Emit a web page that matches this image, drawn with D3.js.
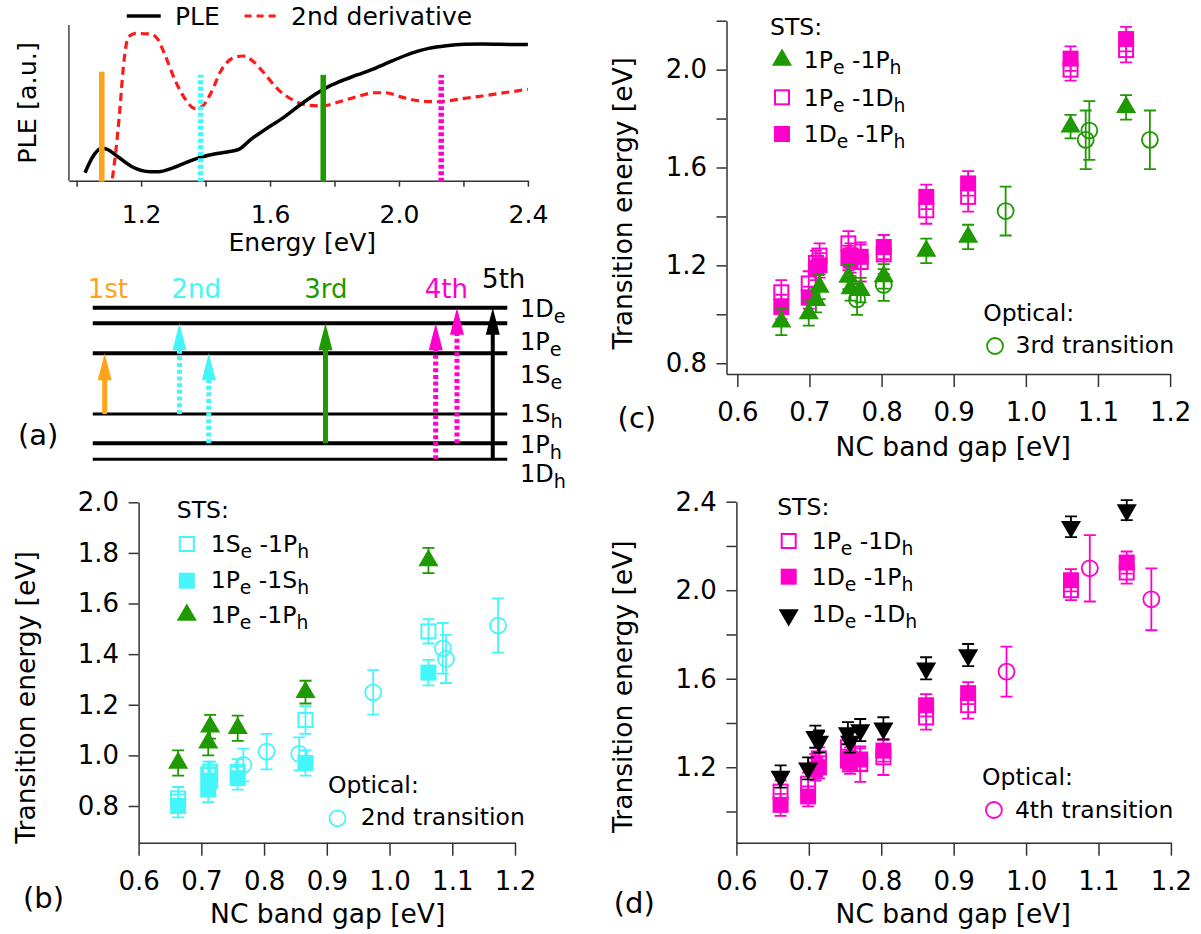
<!DOCTYPE html>
<html>
<head>
<meta charset="utf-8">
<script src="https://cdn.jsdelivr.net/npm/d3@7"></script>
<style>
	body { margin: 0; background: #fff; }
	text { font-family: "DejaVu Sans", sans-serif; }
</style>
</head>
<body>
<svg id="fig" width="1201" height="934"></svg>
<script>
//---------------- data ----------------
//(a) PLE spectrum and its 2nd derivative (arb. units)
var pleE = [1.026,1.050,1.078,1.095,1.128,1.172,1.228,1.255,1.294,1.339,1.383,1.427,1.471,1.505,1.538,1.582,1.638,1.693,1.737,1.771,1.815,1.870,1.926,1.981,2.037,2.092,2.147,2.203,2.258,2.314,2.4];
var pleI = [0.051,0.154,0.208,0.201,0.154,0.090,0.058,0.058,0.079,0.116,0.150,0.171,0.186,0.203,0.261,0.325,0.400,0.486,0.550,0.593,0.636,0.679,0.722,0.771,0.818,0.850,0.867,0.876,0.878,0.876,0.874];
var derE = [1.111,1.122,1.134,1.145,1.161,1.183,1.228,1.250,1.272,1.305,1.339,1.366,1.388,1.416,1.449,1.483,1.516,1.549,1.582,1.627,1.671,1.715,1.760,1.815,1.870,1.926,1.959,2.003,2.059,2.114,2.158,2.203,2.258,2.314,2.4];
var derI = [0.015,0.197,0.454,0.732,0.925,0.946,0.942,0.914,0.818,0.647,0.518,0.465,0.475,0.561,0.711,0.786,0.801,0.764,0.690,0.582,0.518,0.486,0.480,0.507,0.540,0.565,0.565,0.540,0.514,0.507,0.514,0.529,0.544,0.561,0.587];
var aTicks = [1.0,1.2,1.4,1.6,1.8,2.0,2.2,2.4];
var aTickLabels = [1.2,1.6,2.0,2.4];
//transition markers in the spectrum
var markE = [1.078, 1.385, 1.765, 2.131];
var markTop = [0.70, 0.68, 0.68, 0.68];
var markColor = ['#ffa31a', '#44f6fa', '#1f9900', '#ff00cc'];
var markDotted = [false, true, false, true];

//(a) level scheme
var levelNames = ['1D_e', '1P_e', '1S_e', '1S_h', '1P_h', '1D_h'];
var levelPos = [1.0, 0.897, 0.699, 0.299, 0.106, 0];
var levelWidth = [4, 4, 4, 3, 4, 3];
var levelLabelY = [317, 350, 383, 422, 453, 482];
var arrowE = [1.087, 1.319, 1.410, 1.772, 2.114, 2.180, 2.291];
var arrowFrom = ['1S_h', '1S_h', '1P_h', '1P_h', '1D_h', '1P_h', '1D_h'];
var arrowTo = ['1S_e', '1P_e', '1S_e', '1P_e', '1P_e', '1D_e', '1D_e'];
var arrowColor = ['#ffa31a', '#44f6fa', '#44f6fa', '#1f9900', '#ff00cc', '#ff00cc', '#000'];
var arrowDotted = [false, true, true, false, true, true, false];
var transNames = ['1st', '2nd', '3rd', '4th', '5th'];
var transE = [1.097, 1.371, 1.773, 2.147, 2.325];
var transColor = ['#ffa31a', '#44f6fa', '#1f9900', '#ff00cc', '#000'];

//(b) 2nd transition
var bX = [0.663, 0.711, 0.714, 0.758, 0.866, 1.062];
var b1Se1Ph = [0.83, 0.925, 0.935, 0.935, 1.14, 1.49];
var b1Se1PhErr = [0.045, 0.05, 0.04, 0.05, 0.055, 0.048];
var b1Pe1Sh = [0.80, 0.865, 0.90, 0.91, 0.97, 1.327];
var b1Pe1ShErr = [0.045, 0.05, 0.05, 0.045, 0.05, 0.05];
var b1Pe1Ph = [0.97, 1.05, 1.113, 1.107, 1.25, 1.77];
var b1Pe1PhErr = [0.05, 0.05, 0.047, 0.05, 0.045, 0.05];
var bOptX = [0.767, 0.804, 0.856, 0.974, 1.085, 1.09, 1.173];
var bOpt = [0.962, 1.015, 1.006, 1.249, 1.423, 1.381, 1.513];
var bOptErr = [0.065, 0.07, 0.065, 0.088, 0.1, 0.095, 0.107];
var bYTicks = [0.8,1.0,1.2,1.4,1.6,1.8,2.0];

//(c),(d) STS sizes shared
var stsX = [0.661, 0.699, 0.709, 0.714, 0.754, 0.757, 0.771, 0.803, 0.862, 0.92, 1.062, 1.139];
var c1Pe1Ph = [0.97, 1.004, 1.058, 1.112, 1.153, 1.106, 1.099, 1.155, 1.259, 1.316, 1.767, 1.846];
var c1Pe1PhErr = [0.055, 0.05, 0.05, 0.05, 0.05, 0.05, 0.05, 0.05, 0.05, 0.05, 0.048, 0.05];
var m1Pe1Dh = [1.09, 1.126, 1.21, 1.24, 1.29, 1.24, 1.214, 1.245, 1.425, 1.48, 2.0, 2.08];
var m1Pe1DhErr = [0.05, 0.05, 0.05, 0.05, 0.05, 0.05, 0.08, 0.08, 0.055, 0.06, 0.045, 0.05];
var m1De1Ph = [1.03, 1.068, 1.19, 1.20, 1.23, 1.22, 1.235, 1.275, 1.48, 1.535, 2.045, 2.125];
var m1De1PhErr = [0.05, 0.045, 0.05, 0.05, 0.05, 0.05, 0.05, 0.05, 0.05, 0.05, 0.05, 0.05];
var d1De1Dh = [1.158, 1.195, 1.338, 1.316, 1.354, 1.316, 1.368, 1.376, 1.647, 1.707, 2.287, 2.362];
var d1De1DhErr = [0.05, 0.05, 0.05, 0.05, 0.05, 0.05, 0.05, 0.05, 0.05, 0.05, 0.047, 0.045];
var cOptX = [0.766, 0.803, 0.972, 1.083, 1.088, 1.172];
var cOpt = [1.061, 1.12, 1.422, 1.713, 1.751, 1.713];
var cOptErr = [0.063, 0.065, 0.1, 0.12, 0.12, 0.12];
var dOptX = [0.973, 1.088, 1.173];
var dOpt = [1.632, 2.099, 1.959];
var dOptErr = [0.113, 0.15, 0.14];
var cYTicks = [0.8,1.0,1.2,1.4,1.6,1.8,2.0,2.2];
var cYLabels = [0.8,1.2,1.6,2.0];
var dYTicks = [1.0,1.2,1.4,1.6,1.8,2.0,2.2,2.4];
var dYLabels = [1.2,1.6,2.0,2.4];
var gapTicks = [0.6,0.7,0.8,0.9,1.0,1.1,1.2];

var CYAN = '#44f6fa', GREEN = '#1f9900', MAG = '#ff00cc';

//---------------- helpers ----------------
var svg = d3.select('#fig');
var fmt = d3.format('.1f');

//text with "_x" subscripts
function subText(g, str, x, y, size, color) {
	var t = g.append('text').attr('x', x).attr('y', y)
				.style('font-size', size + 'px').attr('fill', color || '#000');
	var shift = 0, off = size * 0.26;
	str.split(/(_[a-z])/).forEach(function(p) {
		if(!p) return;
		if(p[0] === '_') {
			t.append('tspan').attr('dy', off - shift).style('font-size', (size * 0.8) + 'px').text(p.slice(1));
			shift = off;
		} else {
			t.append('tspan').attr('dy', -shift).text(p);
			shift = 0;
		}
	});
	return t;
}

function styleAxis(sel, size) {
	sel.select('.domain').attr('stroke', '#333').attr('stroke-width', 1.5);
	sel.selectAll('.tick line').attr('stroke', '#333').attr('stroke-width', 1.5);
	sel.selectAll('.tick text').attr('fill', '#000')
		.style('font-size', size + 'px').style('font-family', '"DejaVu Sans", sans-serif');
}

function labelFmt(list) {
	return function(d) { return list.indexOf(d) >= 0 ? fmt(d) : ''; };
}

function drawFrame(g, x, y, yTicks, yLabels) {
	var ax = g.append('g').attr('transform', 'translate(0,' + y.range()[0] + ')')
				.call(d3.axisBottom(x).tickValues(gapTicks).tickSize(13).tickPadding(15.5)
					.tickSizeOuter(0).tickFormat(fmt));
	styleAxis(ax, 26);
	var ay = g.append('g').attr('transform', 'translate(' + x.range()[0] + ',0)')
				.call(d3.axisLeft(y).tickValues(yTicks).tickSize(10).tickPadding(9.5)
					.tickSizeOuter(0).tickFormat(labelFmt(yLabels)));
	styleAxis(ay, 26);
}

function errBars(g, xs, ys, es, x, y, color) {
	g.selectAll(null).data(xs).enter().append('path')
		.attr('d', function(d, i) {
			var px = x(d), y0 = y(ys[i] - es[i]), y1 = y(ys[i] + es[i]);
			return 'M' + (px - 6) + ',' + y0 + 'H' + (px + 6) + 'M' + px + ',' + y0 + 'V' + y1 +
				'M' + (px - 6) + ',' + y1 + 'H' + (px + 6);
		})
		.attr('stroke', color).attr('stroke-width', 1.8).attr('fill', 'none');
}

var triPath = d3.symbol(d3.symbolTriangle, 175)();
function marker(g, type, px, py, color) {
	if(type === 'sq') {
		g.append('rect').attr('x', px - 8).attr('y', py - 8).attr('width', 16).attr('height', 16).attr('fill', color);
	} else if(type === 'osq') {
		g.append('rect').attr('x', px - 7).attr('y', py - 7).attr('width', 14).attr('height', 14)
			.attr('fill', 'none').attr('stroke', color).attr('stroke-width', 2);
	} else if(type === 'tri' || type === 'dtri') {
		g.append('path').attr('d', triPath).attr('fill', color)
			.attr('transform', 'translate(' + px + ',' + py + ')' + (type === 'dtri' ? ' rotate(180)' : ''));
	} else {
		g.append('circle').attr('cx', px).attr('cy', py).attr('r', 8)
			.attr('fill', 'none').attr('stroke', color).attr('stroke-width', 1.8);
	}
}

function series(g, type, xs, ys, es, x, y, color) {
	errBars(g, xs, ys, es, x, y, color);
	xs.forEach(function(d, i) { marker(g, type, x(d), y(ys[i]), color); });
}

function legendRow(g, type, color, label, mx, my, tx, ty) {
	marker(g, type, mx, my, color);
	subText(g, label, tx, ty, 23.5);
}

function axisTitles(g, xt, xx, xy, yt, yx, yy) {
	g.append('text').attr('x', xx).attr('y', xy).attr('text-anchor', 'middle')
		.style('font-size', '26.5px').text(xt);
	g.append('text').attr('transform', 'translate(' + yx + ',' + yy + ') rotate(-90)')
		.attr('text-anchor', 'middle').style('font-size', '26.5px').text(yt);
}

//---------------- (a) spectrum ----------------
var xA = d3.scaleLinear().domain([0.976, 2.4]).range([68.9, 527.9]);
var yA = d3.scaleLinear().domain([0, 1]).range([180.7, 25]);
var gA = svg.append('g');

gA.append('line').attr('x1', xA.range()[0]).attr('x2', xA.range()[0])
	.attr('y1', yA(1)).attr('y2', yA(0)).attr('stroke', '#444').attr('stroke-width', 1.5);
var axA = gA.append('g').attr('transform', 'translate(0,' + yA(0) + ')')
			.call(d3.axisBottom(xA).tickValues(aTicks).tickSize(6).tickPadding(18.5)
				.tickSizeOuter(0).tickFormat(labelFmt(aTickLabels)));
styleAxis(axA, 25);

var line = d3.line().curve(d3.curveMonotoneX);
gA.append('path').attr('d', line(derE.map(function(e, i) { return [xA(e), yA(derI[i])]; })))
	.attr('fill', 'none').attr('stroke', '#ff1a1a').attr('stroke-width', 3.2).attr('stroke-dasharray', '8,5');
gA.append('path').attr('d', line(pleE.map(function(e, i) { return [xA(e), yA(pleI[i])]; })))
	.attr('fill', 'none').attr('stroke', '#000').attr('stroke-width', 3.5);

markE.forEach(function(e, i) {
	gA.append('line').attr('x1', xA(e)).attr('x2', xA(e)).attr('y1', yA(0) + 1).attr('y2', yA(markTop[i]))
		.attr('stroke', markColor[i]).attr('stroke-width', 5.5)
		.attr('stroke-dasharray', markDotted[i] ? '4,2.5' : null);
});

//legend
gA.append('line').attr('x1', 126.8).attr('x2', 160.7).attr('y1', 16).attr('y2', 16)
	.attr('stroke', '#000').attr('stroke-width', 3.5);
gA.append('text').attr('x', 175).attr('y', 25).style('font-size', '25px').text('PLE');
gA.append('line').attr('x1', 244.6).attr('x2', 276.8).attr('y1', 16).attr('y2', 16)
	.attr('stroke', '#ff1a1a').attr('stroke-width', 3.2).attr('stroke-dasharray', '7,5');
gA.append('text').attr('x', 291).attr('y', 25).style('font-size', '25px').text('2nd derivative');

gA.append('text').attr('x', xA(1.7)).attr('y', 251).attr('text-anchor', 'middle')
	.style('font-size', '25px').text('Energy [eV]');
gA.append('text').attr('transform', 'translate(36,103) rotate(-90)').attr('text-anchor', 'middle')
	.style('font-size', '25.5px').text('PLE [a.u.]');

//---------------- (a) level scheme ----------------
var yL = d3.scaleLinear().domain([0, 1]).range([459.3, 307.7]);
function lvl(name) { return yL(levelPos[levelNames.indexOf(name)]); }

levelNames.forEach(function(n, i) {
	gA.append('line').attr('x1', xA(1.05)).attr('x2', xA(2.336))
		.attr('y1', yL(levelPos[i])).attr('y2', yL(levelPos[i]))
		.attr('stroke', '#000').attr('stroke-width', levelWidth[i]);
	subText(gA, n, 520, levelLabelY[i], 24);
});

arrowE.forEach(function(e, i) {
	var px = xA(e), y0 = lvl(arrowFrom[i]), y1 = lvl(arrowTo[i]);
	var head = 27, hw = 7;
	gA.append('line').attr('x1', px).attr('x2', px).attr('y1', y0).attr('y2', y1 + head - 1)
		.attr('stroke', arrowColor[i]).attr('stroke-width', i === 6 ? 4 : 5)
		.attr('stroke-dasharray', arrowDotted[i] ? '4,2.7' : null);
	gA.append('path').attr('d', 'M' + px + ',' + y1 + 'L' + (px + hw) + ',' + (y1 + head) + 'L' + (px - hw) + ',' + (y1 + head) + 'Z')
		.attr('fill', arrowColor[i]);
});

transNames.forEach(function(n, i) {
	gA.append('text').attr('x', xA(transE[i])).attr('y', i === 4 ? 288.3 : 298.3)
		.attr('text-anchor', 'middle').style('font-size', '26px').attr('fill', transColor[i]).text(n);
});
gA.append('text').attr('x', 17.9).attr('y', 445).style('font-size', '29px').text('(a)');

//---------------- (b) ----------------
var xB = d3.scaleLinear().domain([0.6, 1.2]).range([138.6, 515]);
var yB = d3.scaleLinear().domain([0.655, 2.0]).range([842.7, 502.3]);
var gB = svg.append('g');
drawFrame(gB, xB, yB, bYTicks, bYTicks);
series(gB, 'sq', bX, b1Pe1Sh, b1Pe1ShErr, xB, yB, CYAN);
series(gB, 'osq', bX, b1Se1Ph, b1Se1PhErr, xB, yB, CYAN);
series(gB, 'circ', bOptX, bOpt, bOptErr, xB, yB, CYAN);
series(gB, 'tri', bX, b1Pe1Ph, b1Pe1PhErr, xB, yB, GREEN);

gB.append('text').attr('x', 176.8).attr('y', 518.3).style('font-size', '23.5px').text('STS:');
legendRow(gB, 'osq', CYAN, '1S_e -1P_h', 186.8, 544, 210.7, 551.7);
legendRow(gB, 'sq', CYAN, '1P_e -1S_h', 186.8, 580.7, 210.7, 588);
legendRow(gB, 'tri', GREEN, '1P_e -1P_h', 186.8, 615, 210.7, 623);
gB.append('text').attr('x', 327.9).attr('y', 793.3).style('font-size', '23.5px').text('Optical:');
legendRow(gB, 'circ', CYAN, '2nd transition', 337.5, 818.3, 360.7, 825);
axisTitles(gB, 'NC band gap [eV]', 327.7, 923, 'Transition energy [eV]', 35, 697.5);
gB.append('text').attr('x', 23).attr('y', 908).style('font-size', '29px').text('(b)');

//---------------- (c) ----------------
var xC = d3.scaleLinear().domain([0.585, 1.2]).range([726.5, 1170.1]);
var yC = d3.scaleLinear().domain([0.756, 2.2]).range([374, 20.7]);
var gC = svg.append('g');
drawFrame(gC, xC, yC, cYTicks, cYLabels);
series(gC, 'circ', cOptX, cOpt, cOptErr, xC, yC, GREEN);
series(gC, 'sq', stsX, m1De1Ph, m1De1PhErr, xC, yC, MAG);
series(gC, 'osq', stsX, m1Pe1Dh, m1Pe1DhErr, xC, yC, MAG);
series(gC, 'tri', stsX, c1Pe1Ph, c1Pe1PhErr, xC, yC, GREEN);

gC.append('text').attr('x', 770).attr('y', 35).style('font-size', '23.5px').text('STS:');
legendRow(gC, 'tri', GREEN, '1P_e -1P_h', 782, 60, 803.8, 68.3);
legendRow(gC, 'osq', MAG, '1P_e -1D_h', 782, 97.3, 803.8, 106);
legendRow(gC, 'sq', MAG, '1D_e -1P_h', 782, 134, 803.8, 141.7);
gC.append('text').attr('x', 983.2).attr('y', 320.7).style('font-size', '23.5px').text('Optical:');
legendRow(gC, 'circ', GREEN, '3rd transition', 995, 346, 1015.6, 352.7);
axisTitles(gC, 'NC band gap [eV]', 953.2, 456, 'Transition energy [eV]', 631.5, 203.3);
gC.append('text').attr('x', 617.6).attr('y', 428).style('font-size', '29px').text('(c)');

//---------------- (d) ----------------
var xD = d3.scaleLinear().domain([0.6, 1.2]).range([736.4, 1170.9]);
var yD = d3.scaleLinear().domain([0.859, 2.4]).range([842.7, 501.7]);
var gD = svg.append('g');
drawFrame(gD, xD, yD, dYTicks, dYLabels);
series(gD, 'circ', dOptX, dOpt, dOptErr, xD, yD, MAG);
series(gD, 'osq', stsX, m1Pe1Dh, m1Pe1DhErr, xD, yD, MAG);
series(gD, 'sq', stsX, m1De1Ph, m1De1PhErr, xD, yD, MAG);
series(gD, 'dtri', stsX, d1De1Dh, d1De1DhErr, xD, yD, '#000');

gD.append('text').attr('x', 777.2).attr('y', 515).style('font-size', '23.5px').text('STS:');
legendRow(gD, 'osq', MAG, '1P_e -1D_h', 788.7, 541, 811.7, 549.3);
legendRow(gD, 'sq', MAG, '1D_e -1P_h', 788.7, 576.7, 811.7, 585);
legendRow(gD, 'dtri', '#000', '1D_e -1D_h', 788.7, 615, 811.7, 621.7);
gD.append('text').attr('x', 982).attr('y', 785).style('font-size', '23.5px').text('Optical:');
legendRow(gD, 'circ', MAG, '4th transition', 993.9, 810, 1014.9, 818.3);
axisTitles(gD, 'NC band gap [eV]', 953.2, 923, 'Transition energy [eV]', 631.5, 686.7);
gD.append('text').attr('x', 613.7).attr('y', 913).style('font-size', '29px').text('(d)');
</script>
</body>
</html>
